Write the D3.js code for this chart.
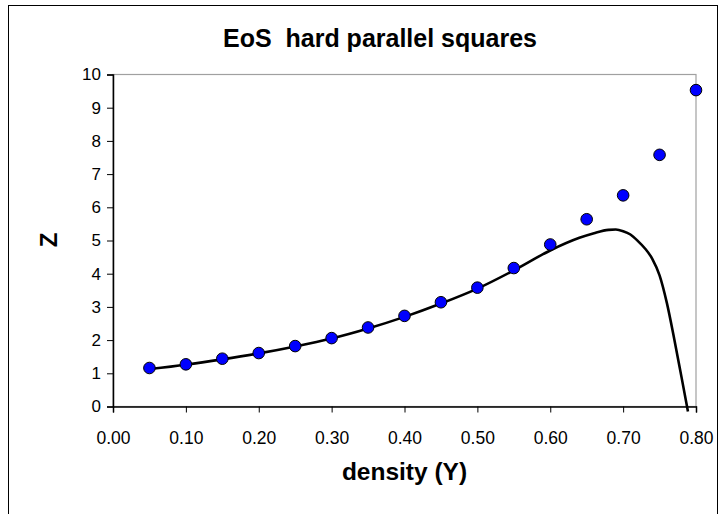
<!DOCTYPE html>
<html>
<head>
<meta charset="utf-8">
<script src="https://cdn.jsdelivr.net/npm/d3@7"></script>
<style>
  html, body { margin: 0; padding: 0; background: #fff; }
  svg { display: block; font-family: "Liberation Sans", Arial, sans-serif; }
</style>
</head>
<body>
<svg id="chart" width="720" height="514"></svg>
<script>
// ---- data ----
const pointDensity = [0.05, 0.10, 0.15, 0.20, 0.25, 0.30, 0.35, 0.40, 0.45, 0.50, 0.55, 0.60, 0.65, 0.70, 0.75, 0.80];
const pointZ       = [1.16, 1.27, 1.44, 1.61, 1.82, 2.06, 2.38, 2.73, 3.14, 3.58, 4.17, 4.88, 5.64, 6.36, 7.58, 9.53];

const curveDensity = [0.05, 0.10, 0.15, 0.20, 0.25, 0.30, 0.35, 0.40, 0.45, 0.50, 0.55, 0.60, 0.64, 0.66, 0.68, 0.69, 0.70, 0.71, 0.72, 0.73, 0.74, 0.75, 0.76, 0.77, 0.78, 0.789];
const curveZ       = [1.13, 1.26, 1.42, 1.60, 1.81, 2.05, 2.35, 2.70, 3.10, 3.55, 4.10, 4.70, 5.08, 5.22, 5.32, 5.33, 5.28, 5.18, 4.99, 4.76, 4.45, 3.95, 3.12, 2.05, 0.90, -0.15];

const xTickValues = [0, 0.1, 0.2, 0.3, 0.4, 0.5, 0.6, 0.7, 0.8];
const yTickValues = [0, 1, 2, 3, 4, 5, 6, 7, 8, 9, 10];

const titleText = "EoS  hard parallel squares";
const xTitle = "density (Y)";
const yTitle = "Z";

// ---- layout ----
const svg = d3.select("#chart");
const plot = { left: 113, right: 696, top: 74.5, bottom: 406.5 };

const x = d3.scaleLinear().domain([0, 0.8]).range([plot.left, plot.right]);
const y = d3.scaleLinear().domain([0, 10]).range([plot.bottom, plot.top]);

// outer chart border
svg.append("rect")
  .attr("x", 8.5).attr("y", 5.5)
  .attr("width", 709).attr("height", 520)
  .attr("fill", "#fff").attr("stroke", "#000").attr("stroke-width", 1);

// plot area border (grey)
svg.append("rect")
  .attr("x", plot.left).attr("y", plot.top)
  .attr("width", plot.right - plot.left).attr("height", plot.bottom - plot.top)
  .attr("fill", "none").attr("stroke", "#a0a0a0").attr("stroke-width", 1.2);

// x axis
const xAxis = d3.axisBottom(x).tickValues(xTickValues).tickSize(6).tickPadding(19)
  .tickFormat(d3.format(".2f"));
const gx = svg.append("g").attr("transform", `translate(0,${plot.bottom})`).call(xAxis);
gx.select(".domain").attr("stroke", "#000").attr("stroke-width", 1.5);
gx.selectAll(".tick line").attr("stroke", "#000").attr("stroke-width", 1);
gx.selectAll(".tick text").attr("font-size", 17.5).attr("fill", "#000")
  .attr("font-family", "Liberation Sans, Arial, sans-serif");

// y axis
const yAxis = d3.axisLeft(y).tickValues(yTickValues).tickSize(6).tickPadding(6)
  .tickFormat(d3.format("d"));
const gy = svg.append("g").attr("transform", `translate(${plot.left},0)`).call(yAxis);
gy.select(".domain").attr("stroke", "#000").attr("stroke-width", 1.5);
gy.selectAll(".tick line").attr("stroke", "#000").attr("stroke-width", 1);
gy.selectAll(".tick text").attr("font-size", 17).attr("fill", "#000")
  .attr("font-family", "Liberation Sans, Arial, sans-serif");

// theory curve
const curveData = curveDensity.map((d, i) => [d, curveZ[i]]);
svg.append("path")
  .datum(curveData)
  .attr("fill", "none")
  .attr("stroke", "#000")
  .attr("stroke-width", 2.6)
  .attr("stroke-linejoin", "round")
  .attr("d", d3.line().x(d => x(d[0])).y(d => y(d[1])).curve(d3.curveMonotoneX));

// simulation points
const pts = pointDensity.map((d, i) => [d, pointZ[i]]);
svg.append("g").selectAll("circle").data(pts).join("circle")
  .attr("cx", d => x(d[0])).attr("cy", d => y(d[1]))
  .attr("r", 5.8)
  .attr("fill", "#0000ff").attr("stroke", "#000").attr("stroke-width", 1);

// titles
svg.append("text")
  .attr("x", 380).attr("y", 47)
  .attr("text-anchor", "middle")
  .attr("font-size", 25).attr("font-weight", "bold")
  .style("white-space", "pre")
  .attr("xml:space", "preserve")
  .text(titleText);

svg.append("text")
  .attr("x", (plot.left + plot.right) / 2).attr("y", 480)
  .attr("text-anchor", "middle")
  .attr("font-size", 24.5).attr("font-weight", "bold")
  .text(xTitle);

svg.append("text")
  .attr("transform", "translate(57,240) rotate(-90)")
  .attr("text-anchor", "middle")
  .attr("font-size", 24).attr("font-weight", "bold")
  .text(yTitle);
</script>
</body>
</html>
